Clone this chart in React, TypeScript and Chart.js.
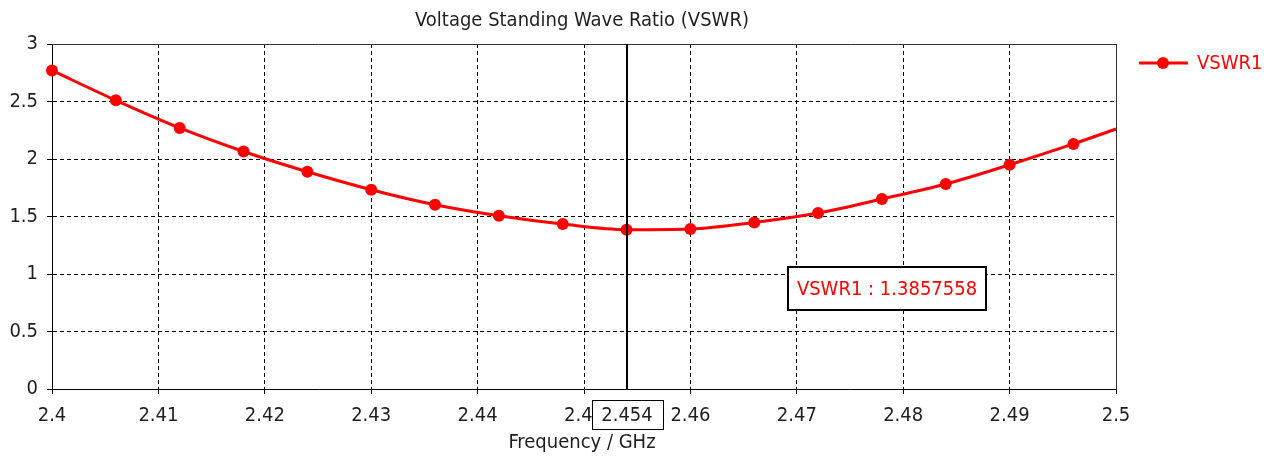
import React, { useEffect, useRef } from "react";
import { Chart, registerables } from "chart.js";

Chart.register(...registerables);

// ---- data ----
const frequencies = [2.4, 2.406, 2.412, 2.418, 2.424, 2.43, 2.436, 2.442, 2.448, 2.454, 2.46, 2.466, 2.472, 2.478, 2.484, 2.49, 2.496, 2.5];
const vswr1 = [2.77, 2.51, 2.27, 2.065, 1.889, 1.733, 1.602, 1.506, 1.434, 1.3857558, 1.392, 1.448, 1.53, 1.652, 1.782, 1.95, 2.131, 2.261];
const markerVisible = [true, true, true, true, true, true, true, true, true, true, true, true, true, true, true, true, true, false];
const xTicks = { min: 2.4, max: 2.5, step: 0.01 };
const yTicks = { min: 0, max: 3, step: 0.5 };
const titleText = "Voltage Standing Wave Ratio (VSWR)";
const xAxisTitle = "Frequency / GHz";
const seriesName = "VSWR1";
const markerFreq = 2.454;
const markerValueText = "1.3857558";
const markerLabelAnchor = { x: 2.4692, y: 1.061 };

const FONT = "'DejaVu Sans Condensed', 'DejaVu Sans', sans-serif";
const RED = "#ff0000";
const TEXT = "#1e1e1e";

export default function App() {
  const ref = useRef<HTMLCanvasElement | null>(null);

  useEffect(() => {
    document.body.style.margin = "0";
    const canvas = ref.current!;
    const overlay = {
      id: "overlay",
      afterDraw(chart: any) {
        const { ctx, chartArea } = chart;
        const xs = chart.scales.x;
        const ys = chart.scales.y;
        ctx.save();
        // top and right frame
        ctx.strokeStyle = "#333";
        ctx.lineWidth = 1;
        ctx.beginPath();
        ctx.moveTo(Math.round(chartArea.left) + 0.5, Math.round(chartArea.top) + 0.5);
        ctx.lineTo(Math.round(chartArea.right) + 0.5, Math.round(chartArea.top) + 0.5);
        ctx.lineTo(Math.round(chartArea.right) + 0.5, Math.round(chartArea.bottom) + 0.5);
        ctx.stroke();

        // title
        ctx.fillStyle = TEXT;
        ctx.font = `20px ${FONT}`;
        ctx.textAlign = "center";
        ctx.textBaseline = "middle";
        ctx.fillText(titleText, (chartArea.left + chartArea.right) / 2 - 2, 21);

        // x axis title
        ctx.font = `20px ${FONT}`;
        ctx.fillText(xAxisTitle, (chartArea.left + chartArea.right) / 2 - 2, 443);

        // legend
        const ly = 63;
        ctx.strokeStyle = RED;
        ctx.lineWidth = 3;
        ctx.beginPath();
        ctx.moveTo(1139, ly);
        ctx.lineTo(1188, ly);
        ctx.stroke();
        ctx.fillStyle = RED;
        ctx.beginPath();
        ctx.arc(1163, ly, 6, 0, Math.PI * 2);
        ctx.fill();
        ctx.textAlign = "left";
        ctx.font = `20px ${FONT}`;
        ctx.fillText(seriesName, 1197, ly + 1);

        // marker vertical line
        const mx = Math.round(xs.getPixelForValue(markerFreq));
        ctx.strokeStyle = "#000";
        ctx.lineWidth = 2;
        ctx.beginPath();
        ctx.moveTo(mx, chartArea.top);
        ctx.lineTo(mx, chartArea.bottom);
        ctx.stroke();

        // marker label on x axis
        ctx.font = `20px ${FONT}`;
        const mText = String(markerFreq);
        const mw = Math.round(ctx.measureText(mText).width + 20);
        const bx = Math.round(mx - mw / 2) + 0.5;
        ctx.fillStyle = "#fff";
        ctx.fillRect(bx, 400.5, mw, 29);
        ctx.strokeStyle = "#000";
        ctx.lineWidth = 1;
        ctx.strokeRect(bx, 400.5, mw, 29);
        ctx.fillStyle = TEXT;
        ctx.textAlign = "center";
        ctx.fillText(mText, mx, 416);

        // value label box
        const label = `${seriesName} : ${markerValueText}`;
        const tw = ctx.measureText(label).width;
        const lx = Math.round(xs.getPixelForValue(markerLabelAnchor.x));
        const lyTop = Math.round(ys.getPixelForValue(markerLabelAnchor.y));
        const boxW = Math.round(tw + 18);
        const boxH = 43;
        ctx.fillStyle = "#fff";
        ctx.fillRect(lx, lyTop, boxW, boxH);
        ctx.strokeStyle = "#000";
        ctx.lineWidth = 2;
        ctx.strokeRect(lx, lyTop, boxW, boxH);
        ctx.fillStyle = RED;
        ctx.textAlign = "center";
        ctx.fillText(label, lx + boxW / 2, lyTop + boxH / 2 + 1);
        ctx.restore();
      },
    };

    const chart = new Chart(canvas, {
      type: "line",
      data: {
        datasets: [
          {
            label: seriesName,
            data: frequencies.map((f, i) => ({ x: f, y: vswr1[i] })),
            borderColor: RED,
            backgroundColor: RED,
            borderWidth: 3,
            pointRadius: markerVisible.map((v) => (v ? 6 : 0)),
            pointHoverRadius: 6,
            pointBorderWidth: 0,
            cubicInterpolationMode: "monotone",
            clip: false,
          },
        ],
      },
      options: {
        animation: false,
        responsive: false,
        events: [],
        layout: { padding: { top: 44, right: 157, left: 0, bottom: 0 } },
        plugins: {
          legend: { display: false },
          title: { display: false },
          tooltip: { enabled: false },
        },
        scales: {
          x: {
            type: "linear",
            min: xTicks.min,
            max: xTicks.max,
            afterFit: (s: any) => {
              s.height = 68;
            },
            ticks: {
              stepSize: xTicks.step,
              autoSkip: false,
              maxRotation: 0,
              color: TEXT,
              font: { family: FONT, size: 20 },
              padding: 10,
              callback: (v: any) => String(Math.round(Number(v) * 1000) / 1000),
            },
            grid: {
              color: "#000",
              lineWidth: 1,
              tickLength: 5,
              tickColor: "#000",
            },
            border: { display: true, color: "#000", width: 1, dash: [4, 3] },
          },
          y: {
            min: yTicks.min,
            max: yTicks.max,
            afterFit: (s: any) => {
              s.width = 52;
            },
            ticks: {
              stepSize: yTicks.step,
              color: TEXT,
              font: { family: FONT, size: 20 },
              padding: 9,
              callback: (v: any) => String(Math.round(Number(v) * 100) / 100),
            },
            grid: {
              color: "#000",
              lineWidth: 1,
              tickLength: 5,
              tickColor: "#000",
            },
            border: { display: true, color: "#000", width: 1, dash: [4, 3] },
          },
        },
      },
      plugins: [overlay],
    });
    return () => chart.destroy();
  }, []);

  return (
    <div style={{ position: "fixed", left: 0, top: 0, width: 1273, height: 457, background: "#fff" }}>
      <canvas ref={ref} width={1273} height={457} />
    </div>
  );
}
